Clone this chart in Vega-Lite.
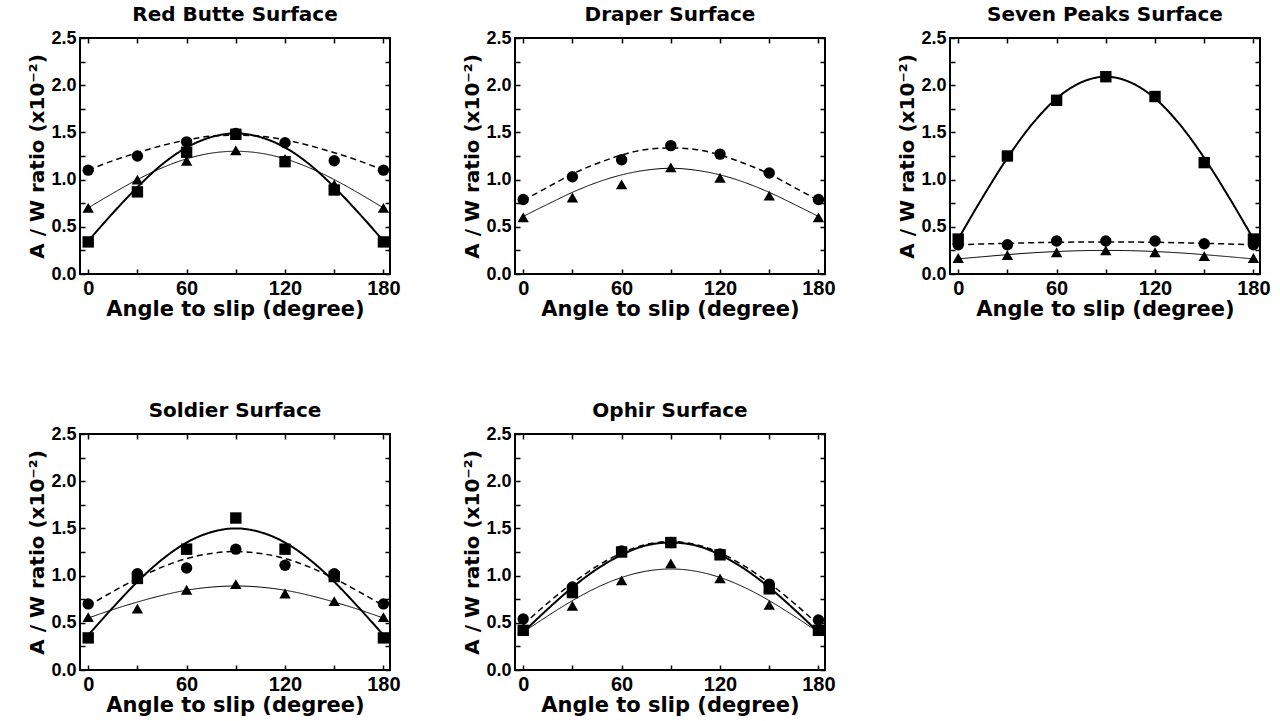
{
  "$schema": "https://vega.github.io/schema/vega-lite/v6.json",
  "autosize": {"type": "pad"},
  "padding": {"left": 26, "top": 4, "right": 5, "bottom": 5},
  "background": "white",
  "datasets": {
    "pts": [
      {"p":"Red Butte","s":"square","a":0,"v":0.34},{"p":"Red Butte","s":"square","a":30,"v":0.87},{"p":"Red Butte","s":"square","a":60,"v":1.29},{"p":"Red Butte","s":"square","a":90,"v":1.48},{"p":"Red Butte","s":"square","a":120,"v":1.19},{"p":"Red Butte","s":"square","a":150,"v":0.89},{"p":"Red Butte","s":"square","a":180,"v":0.34},
      {"p":"Red Butte","s":"circle","a":0,"v":1.10},{"p":"Red Butte","s":"circle","a":30,"v":1.25},{"p":"Red Butte","s":"circle","a":60,"v":1.40},{"p":"Red Butte","s":"circle","a":90,"v":1.49},{"p":"Red Butte","s":"circle","a":120,"v":1.39},{"p":"Red Butte","s":"circle","a":150,"v":1.20},{"p":"Red Butte","s":"circle","a":180,"v":1.10},
      {"p":"Red Butte","s":"triangle","a":0,"v":0.70},{"p":"Red Butte","s":"triangle","a":30,"v":1.00},{"p":"Red Butte","s":"triangle","a":60,"v":1.20},{"p":"Red Butte","s":"triangle","a":90,"v":1.31},{"p":"Red Butte","s":"triangle","a":120,"v":1.22},{"p":"Red Butte","s":"triangle","a":150,"v":0.95},{"p":"Red Butte","s":"triangle","a":180,"v":0.70},
      {"p":"Draper","s":"circle","a":0,"v":0.79},{"p":"Draper","s":"circle","a":30,"v":1.03},{"p":"Draper","s":"circle","a":60,"v":1.21},{"p":"Draper","s":"circle","a":90,"v":1.36},{"p":"Draper","s":"circle","a":120,"v":1.27},{"p":"Draper","s":"circle","a":150,"v":1.07},{"p":"Draper","s":"circle","a":180,"v":0.79},
      {"p":"Draper","s":"triangle","a":0,"v":0.60},{"p":"Draper","s":"triangle","a":30,"v":0.81},{"p":"Draper","s":"triangle","a":60,"v":0.95},{"p":"Draper","s":"triangle","a":90,"v":1.13},{"p":"Draper","s":"triangle","a":120,"v":1.02},{"p":"Draper","s":"triangle","a":150,"v":0.83},{"p":"Draper","s":"triangle","a":180,"v":0.60},
      {"p":"Seven Peaks","s":"square","a":0,"v":0.37},{"p":"Seven Peaks","s":"square","a":30,"v":1.25},{"p":"Seven Peaks","s":"square","a":60,"v":1.84},{"p":"Seven Peaks","s":"square","a":90,"v":2.09},{"p":"Seven Peaks","s":"square","a":120,"v":1.88},{"p":"Seven Peaks","s":"square","a":150,"v":1.18},{"p":"Seven Peaks","s":"square","a":180,"v":0.37},
      {"p":"Seven Peaks","s":"circle","a":0,"v":0.31},{"p":"Seven Peaks","s":"circle","a":30,"v":0.31},{"p":"Seven Peaks","s":"circle","a":60,"v":0.35},{"p":"Seven Peaks","s":"circle","a":90,"v":0.35},{"p":"Seven Peaks","s":"circle","a":120,"v":0.35},{"p":"Seven Peaks","s":"circle","a":150,"v":0.32},{"p":"Seven Peaks","s":"circle","a":180,"v":0.31},
      {"p":"Seven Peaks","s":"triangle","a":0,"v":0.17},{"p":"Seven Peaks","s":"triangle","a":30,"v":0.20},{"p":"Seven Peaks","s":"triangle","a":60,"v":0.23},{"p":"Seven Peaks","s":"triangle","a":90,"v":0.25},{"p":"Seven Peaks","s":"triangle","a":120,"v":0.23},{"p":"Seven Peaks","s":"triangle","a":150,"v":0.19},{"p":"Seven Peaks","s":"triangle","a":180,"v":0.17},
      {"p":"Soldier","s":"square","a":0,"v":0.34},{"p":"Soldier","s":"square","a":30,"v":0.97},{"p":"Soldier","s":"square","a":60,"v":1.28},{"p":"Soldier","s":"square","a":90,"v":1.61},{"p":"Soldier","s":"square","a":120,"v":1.28},{"p":"Soldier","s":"square","a":150,"v":0.99},{"p":"Soldier","s":"square","a":180,"v":0.34},
      {"p":"Soldier","s":"circle","a":0,"v":0.70},{"p":"Soldier","s":"circle","a":30,"v":1.02},{"p":"Soldier","s":"circle","a":60,"v":1.08},{"p":"Soldier","s":"circle","a":90,"v":1.28},{"p":"Soldier","s":"circle","a":120,"v":1.11},{"p":"Soldier","s":"circle","a":150,"v":1.02},{"p":"Soldier","s":"circle","a":180,"v":0.70},
      {"p":"Soldier","s":"triangle","a":0,"v":0.56},{"p":"Soldier","s":"triangle","a":30,"v":0.65},{"p":"Soldier","s":"triangle","a":60,"v":0.85},{"p":"Soldier","s":"triangle","a":90,"v":0.91},{"p":"Soldier","s":"triangle","a":120,"v":0.81},{"p":"Soldier","s":"triangle","a":150,"v":0.73},{"p":"Soldier","s":"triangle","a":180,"v":0.56},
      {"p":"Ophir","s":"square","a":0,"v":0.42},{"p":"Ophir","s":"square","a":30,"v":0.82},{"p":"Ophir","s":"square","a":60,"v":1.25},{"p":"Ophir","s":"square","a":90,"v":1.35},{"p":"Ophir","s":"square","a":120,"v":1.22},{"p":"Ophir","s":"square","a":150,"v":0.86},{"p":"Ophir","s":"square","a":180,"v":0.42},
      {"p":"Ophir","s":"circle","a":0,"v":0.54},{"p":"Ophir","s":"circle","a":30,"v":0.88},{"p":"Ophir","s":"circle","a":60,"v":1.26},{"p":"Ophir","s":"circle","a":90,"v":1.35},{"p":"Ophir","s":"circle","a":120,"v":1.23},{"p":"Ophir","s":"circle","a":150,"v":0.91},{"p":"Ophir","s":"circle","a":180,"v":0.53},
      {"p":"Ophir","s":"triangle","a":0,"v":0.43},{"p":"Ophir","s":"triangle","a":30,"v":0.68},{"p":"Ophir","s":"triangle","a":60,"v":0.95},{"p":"Ophir","s":"triangle","a":90,"v":1.13},{"p":"Ophir","s":"triangle","a":120,"v":0.97},{"p":"Ophir","s":"triangle","a":150,"v":0.69},{"p":"Ophir","s":"triangle","a":180,"v":0.43}
    ],
    "fit": [
      {"p":"Red Butte","s":"square","a":0,"v":0.35},{"p":"Red Butte","s":"square","a":15,"v":0.645},{"p":"Red Butte","s":"square","a":30,"v":0.92},{"p":"Red Butte","s":"square","a":45,"v":1.16},{"p":"Red Butte","s":"square","a":60,"v":1.34},{"p":"Red Butte","s":"square","a":75,"v":1.45},{"p":"Red Butte","s":"square","a":90,"v":1.49},{"p":"Red Butte","s":"square","a":105,"v":1.45},{"p":"Red Butte","s":"square","a":120,"v":1.34},{"p":"Red Butte","s":"square","a":135,"v":1.16},{"p":"Red Butte","s":"square","a":150,"v":0.92},{"p":"Red Butte","s":"square","a":165,"v":0.645},{"p":"Red Butte","s":"square","a":180,"v":0.35},
      {"p":"Red Butte","s":"circle","a":0,"v":1.10},{"p":"Red Butte","s":"circle","a":15,"v":1.20},{"p":"Red Butte","s":"circle","a":30,"v":1.285},{"p":"Red Butte","s":"circle","a":45,"v":1.36},{"p":"Red Butte","s":"circle","a":60,"v":1.42},{"p":"Red Butte","s":"circle","a":75,"v":1.46},{"p":"Red Butte","s":"circle","a":90,"v":1.47},{"p":"Red Butte","s":"circle","a":105,"v":1.46},{"p":"Red Butte","s":"circle","a":120,"v":1.42},{"p":"Red Butte","s":"circle","a":135,"v":1.36},{"p":"Red Butte","s":"circle","a":150,"v":1.285},{"p":"Red Butte","s":"circle","a":165,"v":1.20},{"p":"Red Butte","s":"circle","a":180,"v":1.10},
      {"p":"Red Butte","s":"triangle","a":0,"v":0.70},{"p":"Red Butte","s":"triangle","a":15,"v":0.855},{"p":"Red Butte","s":"triangle","a":30,"v":1.00},{"p":"Red Butte","s":"triangle","a":45,"v":1.124},{"p":"Red Butte","s":"triangle","a":60,"v":1.22},{"p":"Red Butte","s":"triangle","a":75,"v":1.28},{"p":"Red Butte","s":"triangle","a":90,"v":1.30},{"p":"Red Butte","s":"triangle","a":105,"v":1.28},{"p":"Red Butte","s":"triangle","a":120,"v":1.22},{"p":"Red Butte","s":"triangle","a":135,"v":1.124},{"p":"Red Butte","s":"triangle","a":150,"v":1.00},{"p":"Red Butte","s":"triangle","a":165,"v":0.855},{"p":"Red Butte","s":"triangle","a":180,"v":0.70},
      {"p":"Draper","s":"circle","a":0,"v":0.78},{"p":"Draper","s":"circle","a":15,"v":0.92},{"p":"Draper","s":"circle","a":30,"v":1.06},{"p":"Draper","s":"circle","a":45,"v":1.17},{"p":"Draper","s":"circle","a":60,"v":1.26},{"p":"Draper","s":"circle","a":75,"v":1.32},{"p":"Draper","s":"circle","a":90,"v":1.335},{"p":"Draper","s":"circle","a":105,"v":1.32},{"p":"Draper","s":"circle","a":120,"v":1.26},{"p":"Draper","s":"circle","a":135,"v":1.17},{"p":"Draper","s":"circle","a":150,"v":1.06},{"p":"Draper","s":"circle","a":165,"v":0.92},{"p":"Draper","s":"circle","a":180,"v":0.78},
      {"p":"Draper","s":"triangle","a":0,"v":0.61},{"p":"Draper","s":"triangle","a":15,"v":0.74},{"p":"Draper","s":"triangle","a":30,"v":0.865},{"p":"Draper","s":"triangle","a":45,"v":0.97},{"p":"Draper","s":"triangle","a":60,"v":1.05},{"p":"Draper","s":"triangle","a":75,"v":1.10},{"p":"Draper","s":"triangle","a":90,"v":1.12},{"p":"Draper","s":"triangle","a":105,"v":1.10},{"p":"Draper","s":"triangle","a":120,"v":1.05},{"p":"Draper","s":"triangle","a":135,"v":0.97},{"p":"Draper","s":"triangle","a":150,"v":0.865},{"p":"Draper","s":"triangle","a":165,"v":0.74},{"p":"Draper","s":"triangle","a":180,"v":0.61},
      {"p":"Seven Peaks","s":"square","a":0,"v":0.37},{"p":"Seven Peaks","s":"square","a":15,"v":0.815},{"p":"Seven Peaks","s":"square","a":30,"v":1.23},{"p":"Seven Peaks","s":"square","a":45,"v":1.586},{"p":"Seven Peaks","s":"square","a":60,"v":1.86},{"p":"Seven Peaks","s":"square","a":75,"v":2.03},{"p":"Seven Peaks","s":"square","a":90,"v":2.09},{"p":"Seven Peaks","s":"square","a":105,"v":2.03},{"p":"Seven Peaks","s":"square","a":120,"v":1.86},{"p":"Seven Peaks","s":"square","a":135,"v":1.586},{"p":"Seven Peaks","s":"square","a":150,"v":1.23},{"p":"Seven Peaks","s":"square","a":165,"v":0.815},{"p":"Seven Peaks","s":"square","a":180,"v":0.37},
      {"p":"Seven Peaks","s":"circle","a":0,"v":0.31},{"p":"Seven Peaks","s":"circle","a":15,"v":0.318},{"p":"Seven Peaks","s":"circle","a":30,"v":0.325},{"p":"Seven Peaks","s":"circle","a":45,"v":0.331},{"p":"Seven Peaks","s":"circle","a":60,"v":0.336},{"p":"Seven Peaks","s":"circle","a":75,"v":0.339},{"p":"Seven Peaks","s":"circle","a":90,"v":0.34},{"p":"Seven Peaks","s":"circle","a":105,"v":0.339},{"p":"Seven Peaks","s":"circle","a":120,"v":0.336},{"p":"Seven Peaks","s":"circle","a":135,"v":0.331},{"p":"Seven Peaks","s":"circle","a":150,"v":0.325},{"p":"Seven Peaks","s":"circle","a":165,"v":0.318},{"p":"Seven Peaks","s":"circle","a":180,"v":0.31},
      {"p":"Seven Peaks","s":"triangle","a":0,"v":0.16},{"p":"Seven Peaks","s":"triangle","a":15,"v":0.183},{"p":"Seven Peaks","s":"triangle","a":30,"v":0.205},{"p":"Seven Peaks","s":"triangle","a":45,"v":0.224},{"p":"Seven Peaks","s":"triangle","a":60,"v":0.238},{"p":"Seven Peaks","s":"triangle","a":75,"v":0.247},{"p":"Seven Peaks","s":"triangle","a":90,"v":0.25},{"p":"Seven Peaks","s":"triangle","a":105,"v":0.247},{"p":"Seven Peaks","s":"triangle","a":120,"v":0.238},{"p":"Seven Peaks","s":"triangle","a":135,"v":0.224},{"p":"Seven Peaks","s":"triangle","a":150,"v":0.205},{"p":"Seven Peaks","s":"triangle","a":165,"v":0.183},{"p":"Seven Peaks","s":"triangle","a":180,"v":0.16},
      {"p":"Soldier","s":"square","a":0,"v":0.37},{"p":"Soldier","s":"square","a":15,"v":0.66},{"p":"Soldier","s":"square","a":30,"v":0.935},{"p":"Soldier","s":"square","a":45,"v":1.17},{"p":"Soldier","s":"square","a":60,"v":1.35},{"p":"Soldier","s":"square","a":75,"v":1.46},{"p":"Soldier","s":"square","a":90,"v":1.50},{"p":"Soldier","s":"square","a":105,"v":1.46},{"p":"Soldier","s":"square","a":120,"v":1.35},{"p":"Soldier","s":"square","a":135,"v":1.17},{"p":"Soldier","s":"square","a":150,"v":0.935},{"p":"Soldier","s":"square","a":165,"v":0.66},{"p":"Soldier","s":"square","a":180,"v":0.37},
      {"p":"Soldier","s":"circle","a":0,"v":0.68},{"p":"Soldier","s":"circle","a":15,"v":0.83},{"p":"Soldier","s":"circle","a":30,"v":0.97},{"p":"Soldier","s":"circle","a":45,"v":1.09},{"p":"Soldier","s":"circle","a":60,"v":1.18},{"p":"Soldier","s":"circle","a":75,"v":1.235},{"p":"Soldier","s":"circle","a":90,"v":1.255},{"p":"Soldier","s":"circle","a":105,"v":1.235},{"p":"Soldier","s":"circle","a":120,"v":1.18},{"p":"Soldier","s":"circle","a":135,"v":1.09},{"p":"Soldier","s":"circle","a":150,"v":0.97},{"p":"Soldier","s":"circle","a":165,"v":0.83},{"p":"Soldier","s":"circle","a":180,"v":0.68},
      {"p":"Soldier","s":"triangle","a":0,"v":0.55},{"p":"Soldier","s":"triangle","a":15,"v":0.64},{"p":"Soldier","s":"triangle","a":30,"v":0.72},{"p":"Soldier","s":"triangle","a":45,"v":0.79},{"p":"Soldier","s":"triangle","a":60,"v":0.845},{"p":"Soldier","s":"triangle","a":75,"v":0.878},{"p":"Soldier","s":"triangle","a":90,"v":0.89},{"p":"Soldier","s":"triangle","a":105,"v":0.878},{"p":"Soldier","s":"triangle","a":120,"v":0.845},{"p":"Soldier","s":"triangle","a":135,"v":0.79},{"p":"Soldier","s":"triangle","a":150,"v":0.72},{"p":"Soldier","s":"triangle","a":165,"v":0.64},{"p":"Soldier","s":"triangle","a":180,"v":0.55},
      {"p":"Ophir","s":"square","a":0,"v":0.40},{"p":"Ophir","s":"square","a":15,"v":0.646},{"p":"Ophir","s":"square","a":30,"v":0.875},{"p":"Ophir","s":"square","a":45,"v":1.07},{"p":"Ophir","s":"square","a":60,"v":1.22},{"p":"Ophir","s":"square","a":75,"v":1.32},{"p":"Ophir","s":"square","a":90,"v":1.35},{"p":"Ophir","s":"square","a":105,"v":1.32},{"p":"Ophir","s":"square","a":120,"v":1.22},{"p":"Ophir","s":"square","a":135,"v":1.07},{"p":"Ophir","s":"square","a":150,"v":0.875},{"p":"Ophir","s":"square","a":165,"v":0.646},{"p":"Ophir","s":"square","a":180,"v":0.40},
      {"p":"Ophir","s":"circle","a":0,"v":0.48},{"p":"Ophir","s":"circle","a":15,"v":0.71},{"p":"Ophir","s":"circle","a":30,"v":0.92},{"p":"Ophir","s":"circle","a":45,"v":1.10},{"p":"Ophir","s":"circle","a":60,"v":1.24},{"p":"Ophir","s":"circle","a":75,"v":1.33},{"p":"Ophir","s":"circle","a":90,"v":1.36},{"p":"Ophir","s":"circle","a":105,"v":1.33},{"p":"Ophir","s":"circle","a":120,"v":1.24},{"p":"Ophir","s":"circle","a":135,"v":1.10},{"p":"Ophir","s":"circle","a":150,"v":0.92},{"p":"Ophir","s":"circle","a":165,"v":0.71},{"p":"Ophir","s":"circle","a":180,"v":0.48},
      {"p":"Ophir","s":"triangle","a":0,"v":0.40},{"p":"Ophir","s":"triangle","a":15,"v":0.573},{"p":"Ophir","s":"triangle","a":30,"v":0.735},{"p":"Ophir","s":"triangle","a":45,"v":0.874},{"p":"Ophir","s":"triangle","a":60,"v":0.98},{"p":"Ophir","s":"triangle","a":75,"v":1.047},{"p":"Ophir","s":"triangle","a":90,"v":1.07},{"p":"Ophir","s":"triangle","a":105,"v":1.047},{"p":"Ophir","s":"triangle","a":120,"v":0.98},{"p":"Ophir","s":"triangle","a":135,"v":0.874},{"p":"Ophir","s":"triangle","a":150,"v":0.735},{"p":"Ophir","s":"triangle","a":165,"v":0.573},{"p":"Ophir","s":"triangle","a":180,"v":0.40}
    ]
  },
  "columns": 3,
  "bounds": "flush",
  "spacing": {"column": 125, "row": 160},
  "concat": [
    {
      "title": "Red Butte Surface",
      "width": 310, "height": 236,
      "resolve": {"axis": {"x": "independent", "y": "independent"}},
      "encoding": {
        "x": {"field": "a", "type": "quantitative", "scale": {"domain": [-5, 184], "nice": false, "zero": false}, "axis": {"title": "Angle to slip (degree)", "values": [0,30,60,90,120,150,180], "labelExpr": "datum.value % 60 == 0 ? datum.label : ''"}},
        "y": {"field": "v", "type": "quantitative", "scale": {"domain": [0, 2.5], "nice": false}, "axis": {"title": "A / W ratio (x10⁻²)", "values": [0,0.25,0.5,0.75,1,1.25,1.5,1.75,2,2.25,2.5], "format": ".1f", "labelExpr": "round(datum.value*4) % 2 == 0 ? datum.label : ''"}}
      },
      "layer": [
        {"data": {"name": "fit"}, "transform": [{"filter": "datum.p == 'Red Butte'"}],
         "mark": {"type": "line", "interpolate": "monotone", "color": "black"},
         "encoding": {"detail": {"field": "s"},
           "strokeDash": {"field": "s", "type": "nominal", "scale": {"domain": ["square","circle","triangle"], "range": [[1,0],[6,4],[1,0]]}, "legend": null},
           "strokeWidth": {"field": "s", "type": "nominal", "scale": {"domain": ["square","circle","triangle"], "range": [2,1,1]}, "legend": null}}},
        {"data": {"name": "pts"}, "transform": [{"filter": "datum.p == 'Red Butte'"}],
         "mark": {"type": "point", "filled": true, "color": "black", "opacity": 1, "size": 130},
         "encoding": {
           "x": {"field": "a", "type": "quantitative", "scale": {"domain": [-5, 184], "nice": false, "zero": false}, "axis": {"orient": "top", "title": null, "labels": false, "values": [0,30,60,90,120,150,180]}},
           "y": {"field": "v", "type": "quantitative", "scale": {"domain": [0, 2.5], "nice": false}, "axis": {"orient": "right", "title": null, "labels": false, "values": [0,0.25,0.5,0.75,1,1.25,1.5,1.75,2,2.25,2.5]}},
           "shape": {"field": "s", "type": "nominal", "scale": {"domain": ["square","circle","triangle"], "range": ["square","circle","triangle-up"]}, "legend": null}}}
      ]
    },
    {
      "title": "Draper Surface",
      "width": 310, "height": 236,
      "resolve": {"axis": {"x": "independent", "y": "independent"}},
      "encoding": {
        "x": {"field": "a", "type": "quantitative", "scale": {"domain": [-5, 184], "nice": false, "zero": false}, "axis": {"title": "Angle to slip (degree)", "values": [0,30,60,90,120,150,180], "labelExpr": "datum.value % 60 == 0 ? datum.label : ''"}},
        "y": {"field": "v", "type": "quantitative", "scale": {"domain": [0, 2.5], "nice": false}, "axis": {"title": "A / W ratio (x10⁻²)", "values": [0,0.25,0.5,0.75,1,1.25,1.5,1.75,2,2.25,2.5], "format": ".1f", "labelExpr": "round(datum.value*4) % 2 == 0 ? datum.label : ''"}}
      },
      "layer": [
        {"data": {"name": "fit"}, "transform": [{"filter": "datum.p == 'Draper'"}],
         "mark": {"type": "line", "interpolate": "monotone", "color": "black"},
         "encoding": {"detail": {"field": "s"},
           "strokeDash": {"field": "s", "type": "nominal", "scale": {"domain": ["square","circle","triangle"], "range": [[1,0],[6,4],[1,0]]}, "legend": null},
           "strokeWidth": {"field": "s", "type": "nominal", "scale": {"domain": ["square","circle","triangle"], "range": [2,1,1]}, "legend": null}}},
        {"data": {"name": "pts"}, "transform": [{"filter": "datum.p == 'Draper'"}],
         "mark": {"type": "point", "filled": true, "color": "black", "opacity": 1, "size": 130},
         "encoding": {
           "x": {"field": "a", "type": "quantitative", "scale": {"domain": [-5, 184], "nice": false, "zero": false}, "axis": {"orient": "top", "title": null, "labels": false, "values": [0,30,60,90,120,150,180]}},
           "y": {"field": "v", "type": "quantitative", "scale": {"domain": [0, 2.5], "nice": false}, "axis": {"orient": "right", "title": null, "labels": false, "values": [0,0.25,0.5,0.75,1,1.25,1.5,1.75,2,2.25,2.5]}},
           "shape": {"field": "s", "type": "nominal", "scale": {"domain": ["square","circle","triangle"], "range": ["square","circle","triangle-up"]}, "legend": null}}}
      ]
    },
    {
      "title": "Seven Peaks Surface",
      "width": 310, "height": 236,
      "resolve": {"axis": {"x": "independent", "y": "independent"}},
      "encoding": {
        "x": {"field": "a", "type": "quantitative", "scale": {"domain": [-5, 184], "nice": false, "zero": false}, "axis": {"title": "Angle to slip (degree)", "values": [0,30,60,90,120,150,180], "labelExpr": "datum.value % 60 == 0 ? datum.label : ''"}},
        "y": {"field": "v", "type": "quantitative", "scale": {"domain": [0, 2.5], "nice": false}, "axis": {"title": "A / W ratio (x10⁻²)", "values": [0,0.25,0.5,0.75,1,1.25,1.5,1.75,2,2.25,2.5], "format": ".1f", "labelExpr": "round(datum.value*4) % 2 == 0 ? datum.label : ''"}}
      },
      "layer": [
        {"data": {"name": "fit"}, "transform": [{"filter": "datum.p == 'Seven Peaks'"}],
         "mark": {"type": "line", "interpolate": "monotone", "color": "black"},
         "encoding": {"detail": {"field": "s"},
           "strokeDash": {"field": "s", "type": "nominal", "scale": {"domain": ["square","circle","triangle"], "range": [[1,0],[6,4],[1,0]]}, "legend": null},
           "strokeWidth": {"field": "s", "type": "nominal", "scale": {"domain": ["square","circle","triangle"], "range": [1.3,1,1]}, "legend": null}}},
        {"data": {"name": "pts"}, "transform": [{"filter": "datum.p == 'Seven Peaks'"}],
         "mark": {"type": "point", "filled": true, "color": "black", "opacity": 1, "size": 130},
         "encoding": {
           "x": {"field": "a", "type": "quantitative", "scale": {"domain": [-5, 184], "nice": false, "zero": false}, "axis": {"orient": "top", "title": null, "labels": false, "values": [0,30,60,90,120,150,180]}},
           "y": {"field": "v", "type": "quantitative", "scale": {"domain": [0, 2.5], "nice": false}, "axis": {"orient": "right", "title": null, "labels": false, "values": [0,0.25,0.5,0.75,1,1.25,1.5,1.75,2,2.25,2.5]}},
           "shape": {"field": "s", "type": "nominal", "scale": {"domain": ["square","circle","triangle"], "range": ["square","circle","triangle-up"]}, "legend": null}}}
      ]
    },
    {
      "title": "Soldier Surface",
      "width": 310, "height": 236,
      "resolve": {"axis": {"x": "independent", "y": "independent"}},
      "encoding": {
        "x": {"field": "a", "type": "quantitative", "scale": {"domain": [-5, 184], "nice": false, "zero": false}, "axis": {"title": "Angle to slip (degree)", "values": [0,30,60,90,120,150,180], "labelExpr": "datum.value % 60 == 0 ? datum.label : ''"}},
        "y": {"field": "v", "type": "quantitative", "scale": {"domain": [0, 2.5], "nice": false}, "axis": {"title": "A / W ratio (x10⁻²)", "values": [0,0.25,0.5,0.75,1,1.25,1.5,1.75,2,2.25,2.5], "format": ".1f", "labelExpr": "round(datum.value*4) % 2 == 0 ? datum.label : ''"}}
      },
      "layer": [
        {"data": {"name": "fit"}, "transform": [{"filter": "datum.p == 'Soldier'"}],
         "mark": {"type": "line", "interpolate": "monotone", "color": "black"},
         "encoding": {"detail": {"field": "s"},
           "strokeDash": {"field": "s", "type": "nominal", "scale": {"domain": ["square","circle","triangle"], "range": [[1,0],[6,4],[1,0]]}, "legend": null},
           "strokeWidth": {"field": "s", "type": "nominal", "scale": {"domain": ["square","circle","triangle"], "range": [2,1,1]}, "legend": null}}},
        {"data": {"name": "pts"}, "transform": [{"filter": "datum.p == 'Soldier'"}],
         "mark": {"type": "point", "filled": true, "color": "black", "opacity": 1, "size": 130},
         "encoding": {
           "x": {"field": "a", "type": "quantitative", "scale": {"domain": [-5, 184], "nice": false, "zero": false}, "axis": {"orient": "top", "title": null, "labels": false, "values": [0,30,60,90,120,150,180]}},
           "y": {"field": "v", "type": "quantitative", "scale": {"domain": [0, 2.5], "nice": false}, "axis": {"orient": "right", "title": null, "labels": false, "values": [0,0.25,0.5,0.75,1,1.25,1.5,1.75,2,2.25,2.5]}},
           "shape": {"field": "s", "type": "nominal", "scale": {"domain": ["square","circle","triangle"], "range": ["square","circle","triangle-up"]}, "legend": null}}}
      ]
    },
    {
      "title": "Ophir Surface",
      "width": 310, "height": 236,
      "resolve": {"axis": {"x": "independent", "y": "independent"}},
      "encoding": {
        "x": {"field": "a", "type": "quantitative", "scale": {"domain": [-5, 184], "nice": false, "zero": false}, "axis": {"title": "Angle to slip (degree)", "values": [0,30,60,90,120,150,180], "labelExpr": "datum.value % 60 == 0 ? datum.label : ''"}},
        "y": {"field": "v", "type": "quantitative", "scale": {"domain": [0, 2.5], "nice": false}, "axis": {"title": "A / W ratio (x10⁻²)", "values": [0,0.25,0.5,0.75,1,1.25,1.5,1.75,2,2.25,2.5], "format": ".1f", "labelExpr": "round(datum.value*4) % 2 == 0 ? datum.label : ''"}}
      },
      "layer": [
        {"data": {"name": "fit"}, "transform": [{"filter": "datum.p == 'Ophir'"}],
         "mark": {"type": "line", "interpolate": "monotone", "color": "black"},
         "encoding": {"detail": {"field": "s"},
           "strokeDash": {"field": "s", "type": "nominal", "scale": {"domain": ["square","circle","triangle"], "range": [[1,0],[6,4],[1,0]]}, "legend": null},
           "strokeWidth": {"field": "s", "type": "nominal", "scale": {"domain": ["square","circle","triangle"], "range": [1.6,1,1]}, "legend": null}}},
        {"data": {"name": "pts"}, "transform": [{"filter": "datum.p == 'Ophir'"}],
         "mark": {"type": "point", "filled": true, "color": "black", "opacity": 1, "size": 130},
         "encoding": {
           "x": {"field": "a", "type": "quantitative", "scale": {"domain": [-5, 184], "nice": false, "zero": false}, "axis": {"orient": "top", "title": null, "labels": false, "values": [0,30,60,90,120,150,180]}},
           "y": {"field": "v", "type": "quantitative", "scale": {"domain": [0, 2.5], "nice": false}, "axis": {"orient": "right", "title": null, "labels": false, "values": [0,0.25,0.5,0.75,1,1.25,1.5,1.75,2,2.25,2.5]}},
           "shape": {"field": "s", "type": "nominal", "scale": {"domain": ["square","circle","triangle"], "range": ["square","circle","triangle-up"]}, "legend": null}}}
      ]
    }
  ],
  "config": {
    "font": "Liberation Sans",
    "view": {"stroke": "black", "strokeWidth": 2},
    "axis": {"domain": false, "grid": false, "ticks": true, "tickColor": "black", "tickSize": -5, "tickWidth": 1.5,
             "labelFont": "Liberation Sans", "labelFontWeight": "bold", "labelColor": "black", "labelPadding": 9,
             "titleFont": "DejaVu Sans", "titleFontWeight": "bold", "titleColor": "black"},
    "axisX": {"titlePadding": 0, "labelFlush": false, "labelFontSize": 20, "titleFontSize": 21},
    "axisY": {"titlePadding": 3, "labelFontSize": 18, "titleFontSize": 20},
    "title": {"fontSize": 20, "fontWeight": "bold", "color": "black", "offset": 4, "anchor": "middle", "font": "DejaVu Sans"}
  }
}
